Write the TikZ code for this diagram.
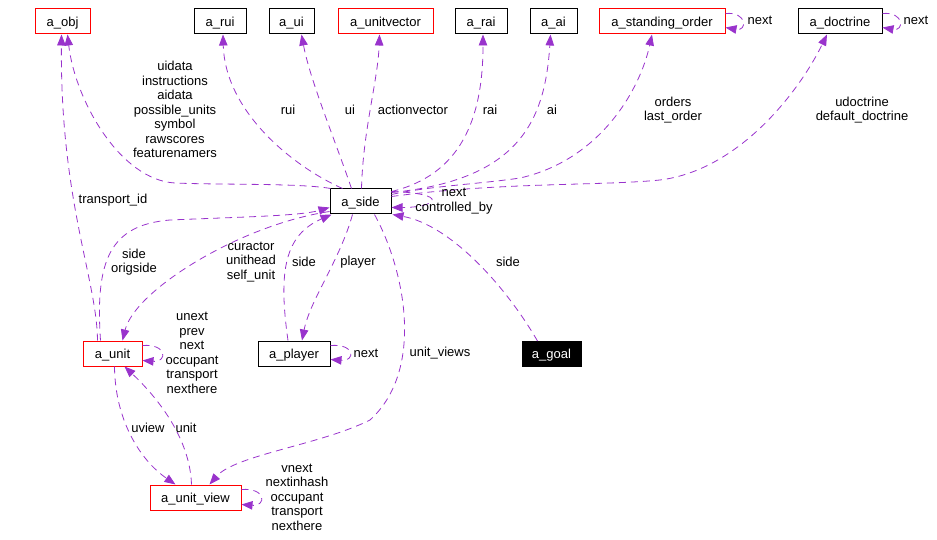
\documentclass[tikz,border=0pt]{standalone}
\usepackage{fontspec}
\setmainfont{Liberation Sans}
\definecolor{orchidln}{rgb}{0.60,0.20,0.80}
\definecolor{boxred}{rgb}{1.00,0.00,0.00}
\usepackage{tikz}
\usetikzlibrary{arrows.meta,calc}
\tikzset{
  cls/.style={draw=black,line width=1pt,minimum height=25pt,inner sep=0pt,text height=9.5pt,text depth=0pt,font=\fontsize{13}{14.5}\selectfont},
  clsR/.style={cls,draw=boxred},
  clsK/.style={cls,fill=black,text=white},
  uses/.style={orchidln,dash pattern=on 7pt off 5pt,line width=0.8pt,-{Triangle[length=11pt,width=8.5pt]}},
  elab/.style={font=\fontsize{13}{14.5}\selectfont,align=center,inner sep=0pt},
}

\begin{document}
\begin{tikzpicture}[x=1pt,y=-1pt]
        \useasboundingbox (0,0) rectangle (937,540);
        % top row
        \node[clsR,minimum width=55pt] (obj) at (62.5,21.5) {a\_obj};
        \node[cls,minimum width=52pt] (rui) at (220,21.5) {a\_rui};
        \node[cls,minimum width=45pt] (ui) at (291.5,21.5) {a\_ui};
        \node[clsR,minimum width=95pt] (uvec) at (385.5,21.5) {a\_unitvector};
        \node[cls,minimum width=52pt] (rai) at (481,21.5) {a\_rai};
        \node[cls,minimum width=47pt] (ai) at (553.5,21.5) {a\_ai};
        \node[clsR,minimum width=126pt] (sord) at (662,21.5) {a\_standing\_order};
        \node[cls,minimum width=84pt] (doc) at (840,21.5) {a\_doctrine};
        % middle and bottom
        \node[cls,minimum width=61pt] (side) at (360.5,201.5) {a\_side};
        \node[clsR,minimum width=59pt] (unit) at (112.5,353.5) {a\_unit};
        \node[cls,minimum width=72pt] (player) at (294,353.5) {a\_player};
        \node[clsK,minimum width=59pt] (goal) at (551.5,354) {a\_goal};
        \node[clsR,minimum width=91pt] (uview) at (195.5,497.5) {a\_unit\_view};

        % a_side -> top row
        \draw[uses] ([xshift=1pt]side.north west) .. controls (300,183) and (220,185) .. (175,183)
          .. controls (120,180) and (75,100) .. ([xshift=5pt]obj.south);
        \draw[uses] ([xshift=-15pt]unit.north) .. controls (97,280) and (60,200) .. ([xshift=-1pt]obj.south);
        \draw[uses] ([xshift=-18pt]side.north) .. controls (290,165) and (225,110) .. ([xshift=3pt]rui.south);
        \draw[uses] ([xshift=-9pt]side.north) .. controls (335,140) and (310,80) .. ([xshift=10pt]ui.south);
        \draw[uses] ([xshift=1pt]side.north) .. controls (363,130) and (378,80) .. ([xshift=-6pt]uvec.south);
        \draw[uses] ([yshift=-3pt]side.north east) .. controls (460,175) and (483,120) .. ([xshift=2pt]rai.south);
        \draw[uses] ([yshift=-4pt]side.north east) .. controls (520,180) and (545,120) .. ([xshift=-3pt]ai.south);
        \draw[uses] ([yshift=-6pt]side.north east) .. controls (430,186) and (480,184) .. (520,178)
          .. controls (600,160) and (640,90) .. ([xshift=-10pt]sord.south);
        \draw[uses] ([yshift=-8pt]side.north east) .. controls (500,182) and (600,186) .. (660,180)
          .. controls (740,170) and (800,90) .. ([xshift=-13pt]doc.south);

        % self loops
        \draw[uses] ([yshift=8pt]sord.east) .. controls +(22,-2) and +(22,4) .. ([yshift=-6pt]sord.east);
        \draw[uses] ([yshift=8pt]doc.east) .. controls +(22,-2) and +(22,4) .. ([yshift=-6pt]doc.east);
        \draw[uses] ([yshift=10pt]side.east) .. controls +(60,2) and +(45,0) .. ([yshift=-6pt]side.east);
        \draw[uses] ([yshift=8pt]player.east) .. controls +(25,-2) and +(25,2) .. ([yshift=-6pt]player.east);
        \draw[uses] ([yshift=8pt]unit.east) .. controls +(25,-2) and +(25,2) .. ([yshift=-7pt]unit.east);
        \draw[uses] ([yshift=8pt]uview.east) .. controls +(25,-2) and +(25,2) .. ([yshift=-7pt]uview.east);

        % around a_side
        \draw[uses] ([xshift=-12pt]unit.north) .. controls (95,260) and (110,225) .. (170,220)
          .. controls (240,217) and (300,216) .. ([yshift=-6pt]side.west);
        \draw[uses] ([yshift=3pt]side.south west) .. controls (240,225) and (135,290) .. ([xshift=10pt]unit.north);
        \draw[uses] ([xshift=-6pt]player.north) .. controls (278,270) and (285,235) .. ([xshift=2pt]side.south west);
        \draw[uses] ([xshift=-8pt]side.south) .. controls (340,260) and (310,300) .. ([xshift=8pt]player.north);
        \draw[uses] ([xshift=-14pt]goal.north) .. controls (505,285) and (450,225) .. ([xshift=1pt]side.south east);
        \draw[uses] ([xshift=14pt]side.south) .. controls (405,270) and (425,370) .. (370,420)
          .. controls (320,445) and (235,455) .. ([xshift=14pt]uview.north);

        % a_unit <-> a_unit_view
        \draw[uses] ([xshift=2pt]unit.south) .. controls (115,420) and (140,460) .. ([xshift=-20pt]uview.north);
        \draw[uses] ([xshift=-4pt]uview.north) .. controls (190,440) and (160,400) .. ([xshift=12pt]unit.south);

        % labels
        \node[elab] (l_obj) at (175,109.5) {uidata\\instructions\\aidata\\possible\_units\\symbol\\rawscores\\featurenamers};
        \node[elab] (l_tid) at (113,200) {transport\_id};
        \node[elab] (l_rui) at (288,110) {rui};
        \node[elab] (l_ui) at (350,110) {ui};
        \node[elab] (l_uvec) at (413,110) {actionvector};
        \node[elab] (l_rai) at (490,110) {rai};
        \node[elab] (l_ai) at (552,110) {ai};
        \node[elab] (l_sord) at (673,110) {orders\\last\_order};
        \node[elab] (l_doc) at (862,110) {udoctrine\\default\_doctrine};
        \node[elab] (l_sordn) at (760,20) {next};
        \node[elab] (l_docn) at (916,20) {next};
        \node[elab] (l_siden) at (454,201) {next\\controlled\_by};
        \node[elab] (l_uside) at (134,262) {side\\origside};
        \node[elab] (l_sunit) at (251,262) {curactor\\unithead\\self\_unit};
        \node[elab] (l_pside) at (304,262) {side};
        \node[elab] (l_spl) at (358,262) {player};
        \node[elab] (l_gside) at (508,262) {side};
        \node[elab] (l_uvs) at (440,353) {unit\_views};
        \node[elab] (l_pln) at (366,353) {next};
        \node[elab] (l_unitn) at (192,353) {unext\\prev\\next\\occupant\\transport\\nexthere};
        \node[elab] (l_uvw) at (148,428) {uview};
        \node[elab] (l_unt) at (186,428) {unit};
        \node[elab] (l_uvn) at (297,497) {vnext\\nextinhash\\occupant\\transport\\nexthere};
\end{tikzpicture}
\end{document}
